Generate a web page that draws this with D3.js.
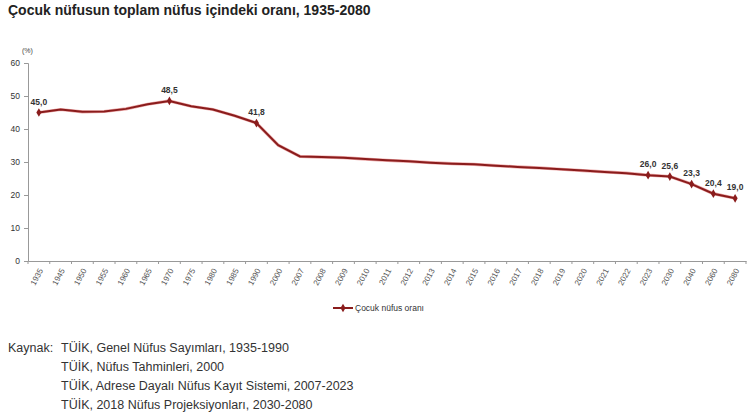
<!DOCTYPE html>
<html><head><meta charset="utf-8">
<script src="https://cdn.jsdelivr.net/npm/d3@7"></script>
<style>body{margin:0;background:#fff}svg{display:block}</style>
</head><body>
<script>
const categories = ["1935","1945","1950","1955","1960","1965","1970","1975","1980","1985","1990","2000","2007","2008","2009","2010","2011","2012","2013","2014","2015","2016","2017","2018","2019","2020","2021","2022","2023","2030","2040","2060","2080"];
const values = [45.0,45.9,45.2,45.3,46.1,47.5,48.5,46.9,45.9,44.0,41.8,35.1,31.7,31.5,31.3,30.9,30.5,30.2,29.8,29.5,29.3,28.9,28.5,28.2,27.8,27.4,27.0,26.6,26.0,25.6,23.3,20.4,19.0];
const labelled = ["1935","1970","1990","2023","2030","2040","2060","2080"];
const yTicks = [0,10,20,30,40,50,60];
const title = "Çocuk nüfusun toplam nüfus içindeki oranı, 1935-2080";
const seriesName = "Çocuk nüfus oranı";
const sources = ["TÜİK, Genel Nüfus Sayımları, 1935-1990","TÜİK, Nüfus Tahminleri, 2000","TÜİK, Adrese Dayalı Nüfus Kayıt Sistemi, 2007-2023","TÜİK, 2018 Nüfus Projeksiyonları, 2030-2080"];

const W=750,H=417;
const svg=d3.select("body").append("svg").attr("width",W).attr("height",H).style("font-family","'Liberation Sans', Arial, sans-serif");
const x=d3.scaleBand().domain(categories).range([28,746]);
const y=d3.scaleLinear().domain([0,60]).range([261,63]);
const lineColor="#8a1c1c";

svg.append("text").attr("x",8).attr("y",15).attr("font-size",14).attr("font-weight","bold").attr("fill","#222").text(title);
svg.append("text").attr("x",22).attr("y",53).attr("font-size",7).attr("fill","#444").text("(%)");

const yAx=svg.append("g").attr("transform","translate(28,0)").call(d3.axisLeft(y).tickValues(yTicks).tickSize(4).tickFormat(d3.format("d")));
yAx.select(".domain").attr("stroke","#999");
yAx.selectAll(".tick line").attr("stroke","#999");
yAx.selectAll("text").attr("font-size",8.5).attr("fill","#333").attr("x",-8);

const xAx=svg.append("g").attr("transform","translate(0,261)").call(d3.axisBottom(x).tickSize(0).tickSizeOuter(0));
xAx.select(".domain").attr("stroke","#999");
xAx.selectAll(".tick text").attr("font-size",8).attr("fill","#555")
  .attr("text-anchor","end").attr("x",0).attr("y",0).attr("dy","0.35em")
  .attr("transform","translate(2,8) rotate(-62)");
// tick marks at band boundaries
svg.append("g").selectAll("line").data(categories.concat(["_end"])).join("line")
  .attr("x1",(d,i)=>x.range()[0]+i*x.step()).attr("x2",(d,i)=>x.range()[0]+i*x.step())
  .attr("y1",261).attr("y2",264).attr("stroke","#999");

const cx=d=>x(d)+x.bandwidth()/2;
const line=d3.line().x((d,i)=>cx(categories[i])).y(d=>y(d));
svg.append("path").datum(values).attr("d",line).attr("fill","none").attr("stroke","#e07070").attr("stroke-width",3.2).attr("opacity",0.6);
svg.append("path").datum(values).attr("d",line).attr("fill","none").attr("stroke",lineColor).attr("stroke-width",2);

const diamond=d3.symbol().type(d3.symbolDiamond).size(22);
svg.append("g").selectAll("path").data(categories.map((c,i)=>({c,v:values[i]})).filter(d=>labelled.includes(d.c))).join("path")
  .attr("d",diamond).attr("transform",d=>`translate(${cx(d.c)},${y(d.v)})`).attr("fill",lineColor);

svg.append("g").selectAll("text").data(categories.map((c,i)=>({c,v:values[i]})).filter(d=>labelled.includes(d.c))).join("text")
  .attr("x",d=>cx(d.c)).attr("y",d=>y(d.v)-8).attr("text-anchor","middle").attr("font-size",8.5).attr("font-weight","bold").attr("fill","#333")
  .text(d=>d3.format(".1f")(d.v).replace(".",","));

// legend
const lg=svg.append("g").attr("transform","translate(333,308)");
lg.append("line").attr("x1",0).attr("x2",20).attr("y1",0).attr("y2",0).attr("stroke",lineColor).attr("stroke-width",2);
lg.append("path").attr("d",diamond).attr("transform","translate(10,0)").attr("fill",lineColor);
lg.append("text").attr("x",22).attr("y",3).attr("font-size",8.5).attr("fill","#333").text(seriesName);

const src=svg.append("g").attr("font-size",12.5).attr("fill","#333");
src.append("text").attr("x",8).attr("y",352).text("Kaynak:");
sources.forEach((s,i)=>src.append("text").attr("x",61).attr("y",352+i*19).text(s));
</script>
</body></html>
